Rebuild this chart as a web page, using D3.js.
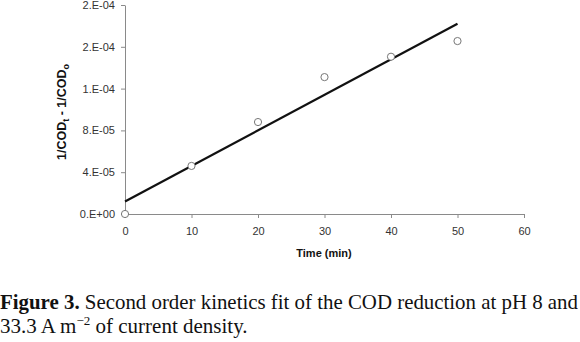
<!DOCTYPE html>
<html>
<head>
<meta charset="utf-8">
<script src="https://cdn.jsdelivr.net/npm/d3@7"></script>
<style>
  body { margin: 0; background: #fff; }
  svg { display: block; }
</style>
</head>
<body>
<svg width="580" height="342"></svg>
<script>
// measured points
var timeMin = [0, 10, 20, 30, 40, 50];
var invCod = [0, 4.6e-5, 8.8e-5, 1.31e-4, 1.505e-4, 1.655e-4];
// fitted line, ends
var fitX = [0, 50];
var fitY = [1.2e-5, 1.82e-4];
// axes
var xTicks = [0, 10, 20, 30, 40, 50, 60];
var yTicks = [0, 4e-5, 8e-5, 1.2e-4, 1.6e-4, 2e-4];
var yTickLabels = ["0.E+00", "4.E-05", "8.E-05", "1.E-04", "2.E-04", "2.E-04"];

var svg = d3.select("svg");
var x = d3.scaleLinear().domain([0, 60]).range([125, 524]);
var y = d3.scaleLinear().domain([0, 2e-4]).range([214, 5]);
var axisCol = "#8a8a8a";
var txtCol = "#333";

var xAxis = svg.append("g")
    .attr("transform", "translate(0,214)")
    .call(d3.axisBottom(x).tickValues(xTicks).tickSize(4).tickSizeOuter(0).tickPadding(9));
var yAxis = svg.append("g")
    .attr("transform", "translate(125,0)")
    .call(d3.axisLeft(y).tickValues(yTicks).tickSize(4).tickSizeOuter(0).tickPadding(6)
        .tickFormat(function (d, i) { return yTickLabels[i]; }));

[xAxis, yAxis].forEach(function (g) {
    g.selectAll("path, line").attr("stroke", axisCol).attr("stroke-width", 1);
    g.selectAll("text")
        .attr("fill", txtCol)
        .style("font-family", "Liberation Sans, Arial, sans-serif")
        .style("font-size", "11px");
});

// fit line
var line = d3.line()
    .x(function (d) { return x(d[0]); })
    .y(function (d) { return y(d[1]); });
svg.append("path")
    .attr("d", line(d3.zip(fitX, fitY)))
    .attr("fill", "none")
    .attr("stroke", "#111")
    .attr("stroke-width", 2.2);

// points
svg.selectAll("circle.pt")
    .data(d3.zip(timeMin, invCod)).enter()
    .append("circle")
    .attr("class", "pt")
    .attr("cx", function (d) { return x(d[0]); })
    .attr("cy", function (d) { return y(d[1]); })
    .attr("r", 3.6)
    .attr("fill", "#fff")
    .attr("stroke", "#777")
    .attr("stroke-width", 1);

// axis titles
svg.append("text")
    .attr("x", 324).attr("y", 257)
    .attr("text-anchor", "middle")
    .attr("fill", "#111")
    .style("font-family", "Liberation Sans, Arial, sans-serif")
    .style("font-size", "11px")
    .style("font-weight", "bold")
    .text("Time (min)");

var yt = svg.append("text")
    .attr("transform", "translate(66,112) rotate(-90)")
    .attr("text-anchor", "middle")
    .attr("fill", "#111")
    .style("font-family", "Liberation Sans, Arial, sans-serif")
    .style("font-size", "12.5px")
    .style("font-weight", "bold");
yt.append("tspan").text("1/COD");
yt.append("tspan").attr("dy", 3).style("font-size", "9px").text("t");
yt.append("tspan").attr("dy", -3).text(" - 1/COD");
yt.append("tspan").attr("dy", 3).style("font-size", "9px").text("o");

// caption (first line squeezed to the full width)
var cap = svg.append("g")
    .style("font-family", "Liberation Serif, Times New Roman, serif")
    .style("font-size", "21px")
    .attr("fill", "#111");
var l1 = cap.append("text").attr("x", 0).attr("y", 309)
    .attr("textLength", 578).attr("lengthAdjust", "spacingAndGlyphs");
l1.append("tspan").style("font-weight", "bold").text("Figure 3.");
l1.append("tspan").text(" Second order kinetics fit of the COD reduction at pH 8 and");
var l2 = cap.append("text").attr("x", 0).attr("y", 333);
l2.append("tspan").text("33.3 A m");
l2.append("tspan").attr("dy", -8).style("font-size", "13px").text("\u22122");
l2.append("tspan").attr("dy", 8).text(" of current density.");
</script>
</body>
</html>
